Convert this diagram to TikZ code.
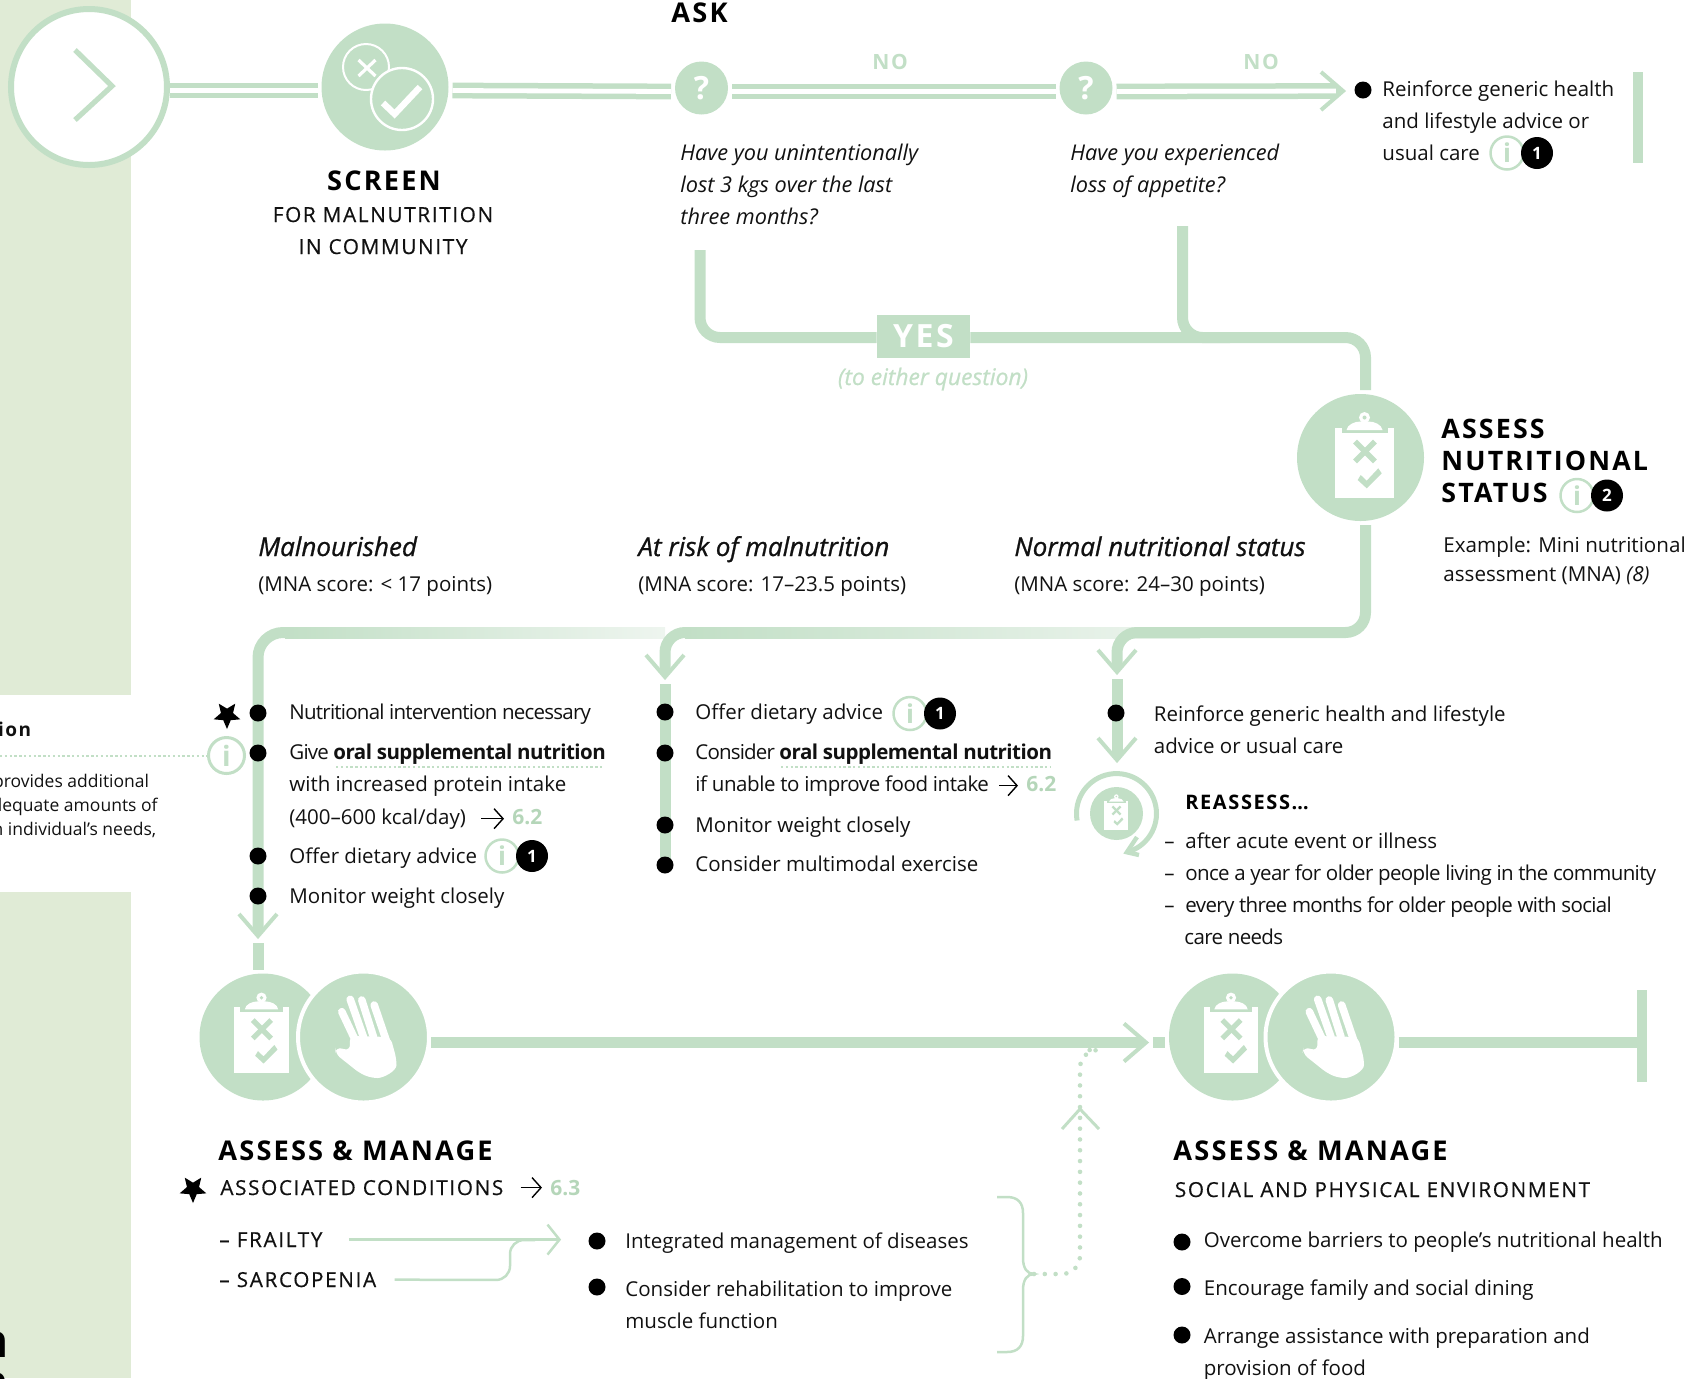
\documentclass[tikz,border=0pt]{standalone}
\usepackage{fontspec}
\usepackage{xcolor}
\setmainfont{Open Sans}
\newfontfamily\trackfont[LetterSpace=8]{Open Sans}
\newfontfamily\trackmedium[LetterSpace=8,FakeBold=0.5]{Open Sans}
\newfontfamily\semifont[FakeBold=0.9]{Open Sans}
\usetikzlibrary{arrows.meta, shapes.geometric}
\definecolor{mint}{HTML}{C2DFC6}
\definecolor{panel}{HTML}{E0EBD6}
\definecolor{fadeout}{HTML}{EEF5EF}
\definecolor{refgreen}{HTML}{B5D6B9}
\definecolor{ink}{HTML}{111111}
\newcommand{\spaced}[2]{{\addfontfeature{LetterSpace=#1}#2}}
\newcommand{\oral}{\textbf{\spaced{-2.5}{oral supplemental nutrition}}}

\begin{document}
\begin{tikzpicture}[x=0.5pt,y=-0.5pt,inner sep=0pt]
\tikzset{
  body/.style={anchor=base west, align=left, text=ink, font=\fontsize{10.25}{16}\selectfont},
  small/.style={anchor=base east, align=left, text=ink, font=\fontsize{8.75}{12}\selectfont},
  ital/.style={body, font=\fontsize{10.85}{16}\selectfont\itshape},
  cat/.style={body, font=\fontsize{13}{16}\selectfont\semifont\itshape},
  title/.style={anchor=base west, align=left, text=black, font=\fontsize{13.6}{16}\selectfont\trackfont\bfseries},
  subtitle/.style={anchor=base west, align=left, text=ink, font=\fontsize{10.35}{16}\selectfont\trackmedium},
  nolabel/.style={anchor=base, text=mint, font=\fontsize{10.5}{12}\selectfont\trackfont\bfseries},
  refnum/.style={anchor=base west, text=refgreen, font=\fontsize{10.5}{12}\selectfont\bfseries},
  icon/.style={circle, fill=mint, minimum size=63.5pt, outer sep=2pt},
  handicon/.style={circle, fill=mint, draw=white, line width=2pt, minimum size=65.5pt, outer sep=1pt},
  ask/.style={circle, fill=mint, minimum size=26.5pt, outer sep=2pt, text=white, font=\fontsize{16}{16}\selectfont\bfseries},
  dot/.style={circle, fill=black, minimum size=8.5pt},
  endbar/.style={fill=mint, minimum width=5pt},
  flow/.style={draw=mint, line width=5.5pt, rounded corners=10pt},
  dbl/.style={draw=mint, line width=2.75pt, double=white, double distance=2.4pt},
  thinflow/.style={draw=mint, line width=1.25pt, rounded corners=7pt},
  refarrow/.style={draw=black, line width=0.7pt, -{Straight Barb[length=4.5pt,width=10pt]}},
  dots/.style={draw=mint, line width=2.3pt, line cap=round, dash pattern=on 0pt off 5.4pt, rounded corners=9pt},
  pics/chev/.style={code={
    \draw[white, line width=1.5pt] (-19,-20) -- (0,2) -- (19,-20);
    \fill[mint] (-5.5,-10) -- (0,-3) -- (5.5,-10) -- cycle;
    \draw[mint, line width=2pt] (-19,-25) -- (0,-3) -- (19,-25);
  }},
  pics/clipboard/.style={code={
    \fill[white] (-29.5,-35) rectangle (29.5,35.5);
    \fill[mint] (-23,-36) rectangle (23,-30);
    \fill[white] (-18,-32.5) .. controls (-17,-38) and (-10,-41) .. (-4,-41) -- (4,-41) .. controls (10,-41) and (17,-38) .. (18,-32.5) -- cycle;
    \fill[white] (0,-45) circle [radius=5.5];
    \fill[mint] (0,-45) circle [radius=2];
    \fill[mint, shift={(0.5,-11)}, rotate=45] (-14,-2.8) rectangle (14,2.8);
    \fill[mint, shift={(0.5,-11)}, rotate=-45] (-14,-2.8) rectangle (14,2.8);
    \fill[mint] (-6.8,17.5) -- (2.2,25.8) -- (17.2,10.8) -- (13.8,5.8) -- (2.2,18.2) -- (-3.8,12.5) -- cycle;
  }},
  pics/hand/.style={code={
    \draw[white, line width=3.8pt, line cap=round] (-21.7,-25.3) -- (-8.3,3);
    \draw[white, line width=3.8pt, line cap=round] (-13.3,-37.7) -- (0,0);
    \draw[white, line width=3.8pt, line cap=round] (-1.7,-37) -- (10,0);
    \draw[white, line width=3.8pt, line cap=round] (10.7,-32) -- (23.3,5);
    \fill[white, rounded corners=3pt] (-14,-1) -- (27,0) -- (33,22) .. controls (33,34) and (20,41) .. (8,41) -- (-3.3,36.5) -- (-28.5,16.5) -- (-27.5,10) -- (-13.3,13.7) -- cycle;
  }},
  pics/infobadge/.style={code={
    \node[circle, draw=mint, fill=white, line width=1.25pt, minimum size=16.5pt, text=mint, font=\fontsize{13}{13}\selectfont\bfseries] (ring) at (0,0) {i};
    \node[circle, fill=black, minimum size=16pt, text=white, font=\fontsize{8.5}{9}\selectfont\bfseries] (num) at (30,0) {#1};
  }}
}
\clip (0,0) rectangle (1708,1378);
\fill[panel] (0,0) rectangle (131,695);
\fill[panel] (0,892) rectangle (131,1378);

% top row
\node[circle, fill=white, draw=mint, line width=3pt, minimum size=78pt, outer sep=1.5pt] (startring) at (89,87) {};
\draw[mint, line width=2.6pt] (75,50) -- (112,86) -- (75,120);
\node[icon] (screen) at (385,87) {};
\node[circle, draw=white, line width=1pt, minimum size=23pt] (nocirc) at (366,67) {};
\draw[white, line width=1.6pt] (358.5,60) -- (375.5,76) (358.5,76) -- (375.5,60);
\node[circle, fill=mint, draw=white, line width=1.2pt, minimum size=31pt] (yescirc) at (402,99) {};
\draw[white, line width=3.2pt] (383,103) -- (394.6,114) -- (420,87);
\node[ask] (q1) at (701.5,88) {?};
\node[ask] (q2) at (1086,88) {?};
\node[endbar, minimum height=45.5pt] (topbar) at (1638,117.5) {};
\draw[dbl] ([yshift=-1.75pt]startring.east) -- ([yshift=-1.75pt]screen.west);
\draw[dbl] ([yshift=-1.75pt]screen.east) -- ([yshift=-1.75pt]q1.west);
\draw[dbl] ([yshift=-1.75pt]q1.east) -- ([yshift=-1.75pt]q2.west);
\coordinate (genericend) at (1338,91);
\draw[dbl] ([yshift=-1.75pt]q2.east) -- (genericend);
\pic[rotate=90] at (1346,91) {chev};
\node[dot] (genericdot) at (1363,90) {};

\node[title] (asktitle) at (671,22) {ASK};
\node[title, anchor=base] (screentitle) at (384,190) {SCREEN};
\node[subtitle, anchor=base, align=center] (screensub) at (383,254) {FOR MALNUTRITION\\IN COMMUNITY};
\node[nolabel] (no1) at (890,69) {NO};
\node[nolabel] (no2) at (1261,69) {NO};
\node[ital] (q1text) at (680,224) {Have you unintentionally\\lost 3 kgs over the last\\three months?};
\node[ital] (q2text) at (1070,192) {Have you experienced\\loss of appetite?};
\node[body] (generic) at (1382,160) {Reinforce generic health\\and lifestyle advice or\\usual care};
\pic at (1507,153) {infobadge=1};

% yes
\node[icon] (assess) at (1360.5,457.5) {};
\pic at (1364.5,462.5) {clipboard};
\node[fill=mint, minimum width=46.5pt, minimum height=21.5pt, text=white, font=\fontsize{16}{16}\selectfont\trackfont\bfseries] (yesbox) at (923.5,336) {YES};
\coordinate (q1drop) at (700,250);
\coordinate (q2drop) at (1182.5,226);
\draw[flow] (q1drop) |- ([yshift=-0.75pt]yesbox.west);
\draw[flow] (q2drop) |- (1230,337.5);
\draw[flow] ([yshift=-0.75pt]yesbox.east) -| ([xshift=2.5pt]assess.north);
\node[ital, anchor=base, text=mint, font=\fontsize{11.4}{16}\selectfont\semifont\itshape] (either) at (933,385) {(to either question)};
\node[title, font=\fontsize{13.4}{16}\selectfont\trackfont\bfseries] (assesstitle) at (1441,502) {ASSESS\\NUTRITIONAL\\STATUS};
\pic at (1577,495.5) {infobadge=2};
\node[body, font=\fontsize{10.3}{14.4}\selectfont] (example) at (1443,581) {Example: Mini nutritional\\assessment (MNA) \textit{(8)}};

% three outcomes
\node[cat] (malhead) at (258,556) {Malnourished};
\node[body] (malscore) at (258,591) {(MNA score: < 17 points)};
\node[cat] (riskhead) at (638,556) {At risk of malnutrition};
\node[body] (riskscore) at (638,591) {(MNA score: 17–23.5 points)};
\node[cat] (normhead) at (1014,556) {Normal nutritional status};
\node[body] (normscore) at (1014,591) {(MNA score: 24–30 points)};

\node[icon] (assessa) at (263,1037) {};
\pic[scale=0.93] at (261.5,1039.5) {clipboard};
\node[handicon] (handa) at (363.5,1037) {};
\pic at (363.5,1037) {hand};
\node[icon] (assessb) at (1232.5,1037) {};
\pic[scale=0.93] at (1231,1039.5) {clipboard};
\node[handicon] (handb) at (1331,1037) {};
\pic at (1331,1037) {hand};
\node[endbar, minimum height=46pt] (endstop) at (1642,1036) {};

\shade[left color=mint, right color=fadeout] (285,627) rectangle (665,638);
\shade[left color=mint, right color=fadeout] (685,627) rectangle (1200,638);
\draw[flow, rounded corners=12.5pt] (285,632.5) -- (258,632.5) -- (258,930);
\pic at (258,939) {chev};
\draw[flow] (258,943) -- ([xshift=-2.5pt]assessa.north);
\draw[flow] (690,632.5) -- (665,632.5) -- (665,671);
\pic at (665,680) {chev};
\draw[flow] ([xshift=2.5pt]assess.south) |- (1117,632.5) -- (1117,666);
\pic at (1117,675) {chev};
\draw[flow] (1117,679) -- (1117,754);
\pic at (1117,763) {chev};

\node[dot] (mala) at (258,713) {};
\node[dot] (malb) at (258,753) {};
\node[dot] (malc) at (258,856) {};
\node[dot] (mald) at (258,896) {};
\coordinate (riskstart) at (665,684);
\coordinate (riskend) at (665,865);
\draw[flow] (riskstart) -- (riskend);
\node[dot] (riska) at (665,712) {};
\node[dot] (riskb) at (665,753) {};
\node[dot] (riskc) at (665,825) {};
\node[dot] (riskd) at (665,865) {};
\node[dot] (norma) at (1116,713) {};
\node[star, star points=5, star point ratio=2.2, shape border rotate=180, fill=black, minimum size=14pt] (starone) at (227,715) {};

% left panel
\node[anchor=base east, text=ink, font=\fontsize{9.5}{12}\selectfont\trackfont\bfseries] (panelhead) at (31.5,736) {ion};
\node[small] (panela) at (149.5,787) {provides additional};
\node[small] (panelb) at (158,811) {dequate amounts of};
\node[small] (panelc) at (156.6,835) {n individual’s needs,};
\node[circle, draw=mint, fill=white, line width=1.5pt, minimum size=18pt, text=mint, font=\fontsize{14}{14}\selectfont\bfseries] (infoleft) at (226.5,755.5) {i};
\coordinate (panelend) at (0,755.5);
\draw[mint, line width=1pt, dash pattern=on 1.2pt off 1.2pt] (panelend) -- (infoleft.west);

\node[body] (malatext) at (289,719) {\spaced{-3.7}{Nutritional intervention necessary}};
\node[body] (malbtext) at (289,791) {\spaced{-4}{Give} \oral\\with increased protein intake};
\node[body] (kcal) at (289,824) {(400–600 kcal/day)};
\node[refnum] (refa) at (512,824) {6.2};
\draw[refarrow, shorten <=7.5pt, shorten >=4pt] (kcal.east) -- (kcal.east -| refa.west);
\node[body] (malctext) at (289,863) {Offer dietary advice};
\pic at (502,856) {infobadge=1};
\node[body] (maldtext) at (289,903) {Monitor weight closely};
\coordinate (ulaa) at (336,767);
\coordinate (ulab) at (603,767);
\draw[mint, line width=1pt, dash pattern=on 1.2pt off 1.2pt] (ulaa) -- (ulab);

\node[body] (riskatext) at (695,719) {Offer dietary advice};
\pic at (910,713.5) {infobadge=1};
\node[body] (riskbtext) at (695,759) {\spaced{-4}{Consider} \oral};
\node[body] (foodintake) at (695,791) {\spaced{-2.2}{if unable to improve food intake}};
\node[refnum] (refb) at (1026,791) {6.2};
\draw[refarrow, shorten <=5pt, shorten >=4pt] (foodintake.east) -- (foodintake.east -| refb.west);
\node[body] (riskctext) at (695,832) {Monitor weight closely};
\node[body] (riskdtext) at (695,871) {Consider multimodal exercise};
\coordinate (ulba) at (781,767);
\coordinate (ulbb) at (1051,767);
\draw[mint, line width=1pt, dash pattern=on 1.2pt off 1.2pt] (ulba) -- (ulbb);

\node[body] (normatext) at (1153.5,753) {Reinforce generic health and lifestyle\\advice or usual care};

% reassess
\node[circle, fill=mint, minimum size=26.5pt] (reassess) at (1116.5,813.5) {};
\pic[scale=0.41] at (1116.3,815) {clipboard};
\coordinate (loopstart) at (1077.1,820.5);
\draw[mint, line width=2.5pt] (loopstart) arc [start angle=190, end angle=-75, radius=20pt] coordinate (loopend);
\draw[mint, line width=2.2pt] (1139,855) -- (loopend) -- (1137,837);
\node[title, font=\fontsize{10}{16}\selectfont\trackfont\bfseries] (reassesstitle) at (1185,809) {REASSESS…};
\node[body] (reassesslist) at (1164,944) {\makebox[10.5pt][l]{–}after acute event or illness\\\makebox[10.5pt][l]{–}\spaced{-3.1}{once a year for older people living in the community}\\\makebox[10.5pt][l]{–}\spaced{-3.1}{every three months for older people with social}\\\hspace*{10pt}\spaced{-3.1}{care needs}};

% assess and manage
\draw[flow] ([yshift=-2.75pt]handa.east) -- (1140,1042.5);
\pic[rotate=90] at (1149,1042.5) {chev};
\draw[flow] (1153,1042.5) -- ([yshift=-2.75pt]assessb.west);
\draw[flow] ([yshift=-2.75pt]handb.east) -- ([yshift=-3.25pt]endstop.west);

\node[title] (managea) at (218,1160) {ASSESS \& MANAGE};
\node[star, star points=5, star point ratio=2.2, shape border rotate=180, fill=black, minimum size=14pt] (startwo) at (193,1189) {};
\node[subtitle] (assoc) at (220,1195) {ASSOCIATED CONDITIONS};
\node[refnum] (refc) at (550,1195) {6.3};
\draw[refarrow, shorten <=8.5pt, shorten >=4pt] (assoc.east) -- (assoc.east -| refc.west);
\node[subtitle] (frailty) at (219,1247) {– FRAILTY};
\node[subtitle] (sarco) at (219,1287) {– SARCOPENIA};
\node[dot] (manaa) at (597,1241) {};
\node[dot] (manab) at (597,1287) {};
\draw[thinflow, shorten <=13pt, shorten >=13.5pt, -{Straight Barb[length=6pt,width=15pt]}] (frailty.east) -- (frailty.east -| manaa.west);
\coordinate (sarcobend) at (510,1280);
\coordinate (sarcojoin) at (535,1240);
\draw[thinflow, shorten <=9pt] (sarco.east) -- (sarcobend) |- (sarcojoin);
\node[body] (manaatext) at (625,1248) {Integrated management of diseases};
\node[body] (manabtext) at (625,1328) {Consider rehabilitation to improve\\muscle function};

\coordinate (bracetop) at (997,1197);
\coordinate (bracetip) at (1034,1274);
\coordinate (bracebot) at (997,1352);
\draw[mint, line width=1.25pt] (bracetop) -- (1007,1197) .. controls (1018,1197) and (1023,1203) .. (1023,1213) -- (1023,1258) .. controls (1023,1268) and (1027,1274) .. (bracetip) .. controls (1027,1274) and (1023,1280) .. (1023,1290) -- (1023,1336) .. controls (1023,1346) and (1018,1352) .. (1007,1352) -- (bracebot);
\coordinate (dotsend) at (1089,1050);
\draw[dots] (bracetip) -- (1080,1274) -- (1080,1050) -- (dotsend);
\draw[mint, line width=1.5pt] (1062,1129) -- (1080,1109) -- (1099,1129);

\node[title] (manageb) at (1173,1160) {ASSESS \& MANAGE};
\node[subtitle] (social) at (1174.5,1197) {SOCIAL AND PHYSICAL ENVIRONMENT};
\node[dot] (manac) at (1182,1242) {};
\node[dot] (manad) at (1182,1286.5) {};
\node[dot] (manae) at (1182,1335) {};
\node[body] (manactext) at (1203.5,1247) {Overcome barriers to people's nutritional health};
\node[body] (manadtext) at (1203.5,1295.5) {Encourage family and social dining};
\node[body] (manaetext) at (1203.5,1375) {Arrange assistance with preparation and\\provision of food};

\node[anchor=base east, font=\fontsize{23}{23}\selectfont\bfseries] (cuta) at (9,1357) {n};
\node[anchor=base east, font=\fontsize{23}{23}\selectfont\bfseries] (cutb) at (9,1398) {n};
\end{tikzpicture}
\end{document}
